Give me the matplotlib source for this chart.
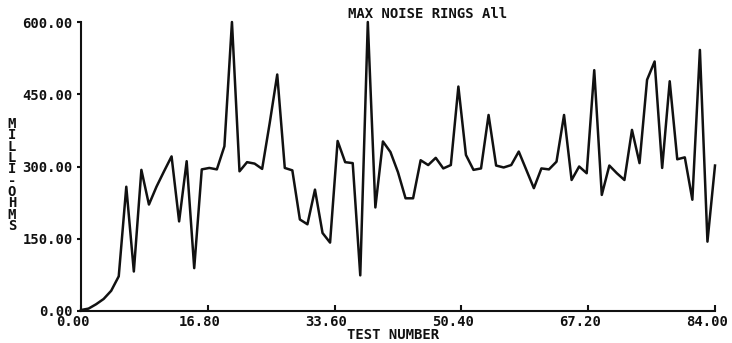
import matplotlib
matplotlib.use('Agg')
import matplotlib.pyplot as plt
import matplotlib.transforms as mtransforms

# values, one per test
test_number = list(range(85))
milli_ohms = [
    2, 5, 14, 25, 42, 72, 258, 82, 293, 221,
    258, 290, 321, 186, 311, 89, 294, 297, 294, 342,
    600, 290, 309, 306, 295, 390, 491, 297, 292, 190,
    180, 252, 162, 142, 353, 309, 307, 74, 600, 215,
    352, 330, 288, 234, 234, 313, 303, 318, 296, 303,
    466, 324, 293, 296, 407, 302, 298, 303, 331, 293,
    255, 296, 294, 310, 407, 272, 300, 286, 500, 241,
    302, 286, 272, 376, 307, 480, 518, 297, 477, 315,
    319, 231, 542, 144, 302,
]
x_ticks = [0.0, 16.8, 33.6, 50.4, 67.2, 84.0]
y_ticks = [0, 150, 300, 450, 600]

ink = '#111111'
mono = dict(family='DejaVu Sans Mono', weight='bold', size=10, color=ink)

fig = plt.figure(figsize=(7.32, 3.43), dpi=100)
ax = fig.add_axes([81 / 732, 32 / 343, 634 / 732, 289 / 343])

ax.plot(test_number, milli_ohms, color=ink, lw=1.8, clip_on=False)

ax.set_xlim(0, 84)
ax.set_ylim(0, 600)
for side in ('top', 'right'):
    ax.spines[side].set_visible(False)
for side in ('left', 'bottom'):
    ax.spines[side].set_linewidth(1.5)
    ax.spines[side].set_color(ink)

ax.set_xticks(x_ticks)
ax.set_xticklabels([f'{v:.2f}' for v in x_ticks], **mono)
ax.set_yticks(y_ticks)
ax.set_yticklabels([f'{v:.2f}' for v in y_ticks], **mono)
ax.tick_params(axis='y', direction='out', length=3, width=1.5, pad=3, colors=ink)
ax.tick_params(axis='x', direction='in', length=4, width=1.5, pad=3, colors=ink)

# the plotter printed x labels a little left of their ticks
shift = mtransforms.ScaledTranslation(-8 / 100, 0, fig.dpi_scale_trans)
for lbl in ax.get_xticklabels():
    lbl.set_transform(lbl.get_transform() + shift)

fig.text(428 / 732, 1 - 14 / 343, 'MAX NOISE RINGS All', ha='center', va='center', **mono)
fig.text(393 / 732, 1 - 335 / 343, 'TEST NUMBER', ha='center', va='center', **mono)
fig.text(12 / 732, 1 - 175 / 343, '\n'.join('MILLI-OHMS'), ha='center', va='center',
         linespacing=0.76, **mono)

fig.savefig('out.png', dpi=100, facecolor='white')
